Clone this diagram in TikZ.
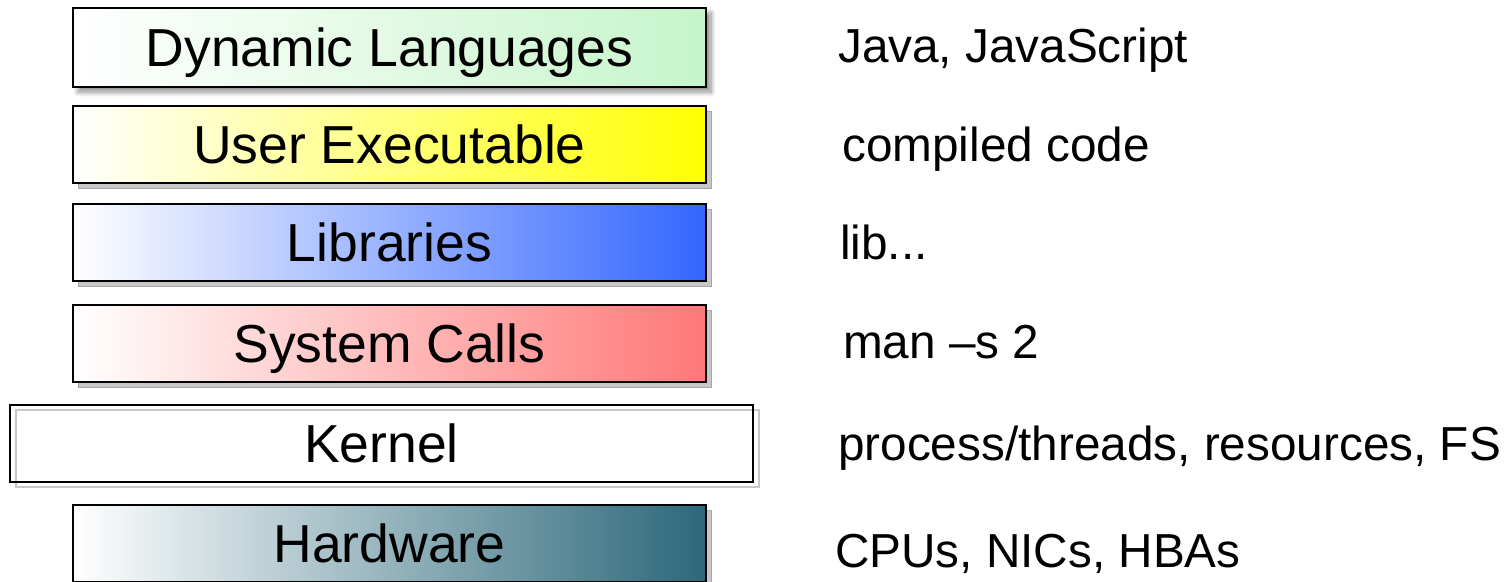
\documentclass[tikz,border=0pt]{standalone}
\usepackage{fontspec}
\setmainfont{Liberation Sans}
\usetikzlibrary{shadows,shadows.blur}
\definecolor{dlgreen}{RGB}{198,245,202}
\definecolor{ueyellow}{RGB}{255,255,0}
\definecolor{libblue}{RGB}{51,102,255}
\definecolor{scred}{RGB}{255,120,120}
\definecolor{hwteal}{RGB}{44,104,122}
\definecolor{shadowgray}{RGB}{200,200,200}
\begin{document}
\begin{tikzpicture}[x=1pt,y=-1pt,
  layer/.style={draw=black, line width=2.6pt, minimum width=633pt, minimum height=77pt,
    inner sep=0pt, text height=37pt, text depth=0pt,
    font=\fontsize{53.5}{60}\selectfont, left color=white},
  flatshadow/.style={drop shadow={shadow xshift=5pt, shadow yshift=-5pt,
    fill=shadowgray, draw=black!35, line width=0.8pt, opacity=1}},
  softshadow/.style={blur shadow={shadow xshift=5pt, shadow yshift=-5pt,
    shadow blur steps=10, shadow blur radius=5pt, shadow opacity=45}},
  note/.style={anchor=base west, inner sep=0pt, font=\fontsize{47.7}{56}\selectfont}]
\useasboundingbox (0,0) rectangle (1510,581);

% layers
\node[layer, softshadow, right color=dlgreen, minimum height=79pt] (dyn) at (389.5,47.5) {Dynamic Languages};
\node[layer, flatshadow, right color=ueyellow] (user) at (389.5,144.5) {User Executable};
\node[layer, flatshadow, right color=libblue] (lib) at (389.5,242.5) {Libraries};
\node[layer, flatshadow, right color=scred] (sys) at (389.5,343.5) {System Calls};

% kernel: outlined shadow, no fill
\node[draw=shadowgray, line width=2.6pt, minimum width=743pt, minimum height=77pt, inner sep=0pt] (kshadow) at (387.5,448.5) {};
\node[layer, draw=black, left color=white, right color=white, fill opacity=0, text opacity=1, minimum width=743pt] (kernel) at (381.5,443.5) {Kernel};

\node[layer, flatshadow, right color=hwteal] (hw) at (389.5,543.5) {Hardware};

% notes
\node[note] (ndyn) at (838,62) {Java, JavaScript};
\node[note] (nuser) at (842,161) {compiled code};
\node[note] (nlib) at (840,259) {lib...};
\node[note] (nsys) at (843,358) {man –s 2};
\node[note] (nker) at (838,460) {process/threads, resources, FS};
\node[note] (nhw) at (835,567) {CPUs, NICs, HBAs};
\end{tikzpicture}
\end{document}
